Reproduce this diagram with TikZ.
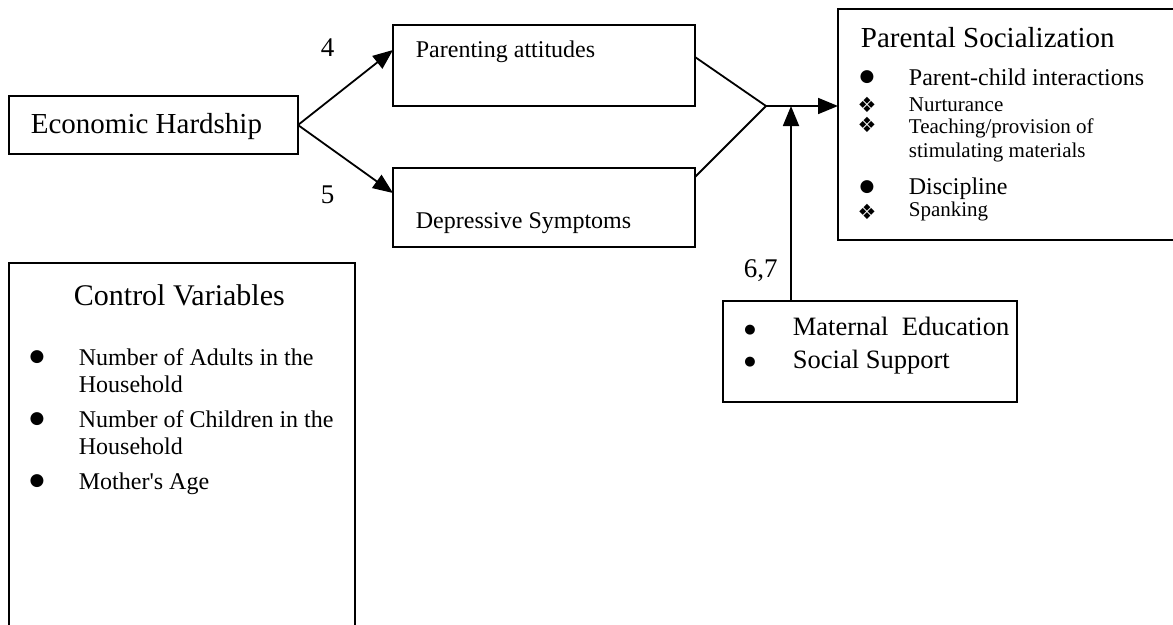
\documentclass[tikz,border=0pt]{standalone}
\usepackage{fontspec}
\setmainfont{Liberation Serif}
\newfontfamily\symfont{DejaVu Sans}
\usetikzlibrary{positioning,calc,arrows.meta}
\newcommand{\fs}[1]{\fontsize{#1}{#1}\selectfont}

\begin{document}
\begin{tikzpicture}[
    x=1pt, y=-1pt,
    line width=1.8pt,
    box/.style={draw, rectangle, inner sep=0pt, outer sep=0pt, anchor=north west},
    txt/.style={inner sep=0pt, anchor=base west},
    blt/.style={inner sep=0pt, anchor=center, font=\symfont\fs{17}},
    dia/.style={inner sep=0pt, anchor=center, font=\symfont\fs{21}},
    flow/.style={-{Triangle[length=20pt,width=16pt]}}
]
    \clip (0,0) rectangle (1173,624);

    \node [box, minimum width=289pt, minimum height=58pt] (econ) at (9,96) {};
    \node [box, minimum width=302pt, minimum height=81pt] (attit) at (393,25) {};
    \node [box, minimum width=302pt, minimum height=79pt] (depr) at (393,168) {};
    \node [box, minimum width=336pt, minimum height=231pt] (social) at (838,9) {};
    \node [box, minimum width=294pt, minimum height=101pt] (moder) at (723,301) {};
    \node [box, minimum width=346pt, minimum height=370pt] (ctrl) at (9,263) {};

    \node [txt, font=\fs{29}] (econtxt) at (30,133) {Economic Hardship};
    \node [txt, font=\fs{24}] (attittxt) at (415,57) {Parenting attitudes};
    \node [txt, font=\fs{24}] (deprtxt) at (415,228) {Depressive Symptoms};

    \node [txt, font=\fs{27}] (lab4) at (320,56) {4};
    \node [txt, font=\fs{27}] (lab5) at (320,203) {5};
    \node [txt, font=\fs{27}] (lab67) at (743,277) {6,7};

    \node [txt, font=\fs{29}] (soctitle) at (860,47) {Parental Socialization};
    \node [blt] (sb1) at (867,77) {●};
    \node [txt, font=\fs{24}] (soc1) at (908,85) {Parent-child interactions};
    \node [dia] (sd1) at (867,105) {❖};
    \node [txt, font=\fs{21}] (soc2) at (908,111) {Nurturance};
    \node [dia] (sd2) at (867,125) {❖};
    \node [txt, font=\fs{21}] (soc3) at (908,133) {Teaching/provision of};
    \node [txt, font=\fs{21}] (soc3b) at (908,157) {stimulating materials};
    \node [blt] (sb2) at (867,187) {●};
    \node [txt, font=\fs{24}] (soc4) at (908,194) {Discipline};
    \node [dia] (sd3) at (867,212) {❖};
    \node [txt, font=\fs{21}] (soc5) at (908,216) {Spanking};

    \node [blt, font=\symfont\fs{13}] (mb1) at (750,330) {●};
    \node [txt, font=\fs{26.5}] (mod1) at (792,335) {Maternal\ \ Education};
    \node [blt, font=\symfont\fs{13}] (mb2) at (750,362) {●};
    \node [txt, font=\fs{26.5}] (mod2) at (792,368) {Social Support};

    \node [txt, font=\fs{30}] (ctrltitle) at (73,305) {Control Variables};
    \node [blt] (cb1) at (37,357) {●};
    \node [txt, font=\fs{24}] (ctrl1) at (78,365) {Number of Adults in the};
    \node [txt, font=\fs{24}] (ctrl1b) at (78,392) {Household};
    \node [blt] (cb2) at (37,419) {●};
    \node [txt, font=\fs{24}] (ctrl2) at (78,427) {Number of Children in the};
    \node [txt, font=\fs{24}] (ctrl2b) at (78,454) {Household};
    \node [blt] (cb3) at (37,481) {●};
    \node [txt, font=\fs{24}] (ctrl3) at (78,489) {Mother\textquotesingle s Age};

    \coordinate (junc) at (766,106);
    \coordinate (mtop) at ($(moder.north west)+(68,0)$);

    \draw [flow] (econ.east) -- ($(attit.north west)+(0,25)$);
    \draw [flow] (econ.east) -- ($(depr.north west)+(0,25)$);
    \draw ($(attit.north east)+(0,32)$) -- (junc) -- ($(depr.north east)+(0,9)$);
    \draw [flow] (junc) -- (junc -| social.west);
    \draw [flow] (mtop) -- (mtop |- junc);
\end{tikzpicture}
\end{document}
